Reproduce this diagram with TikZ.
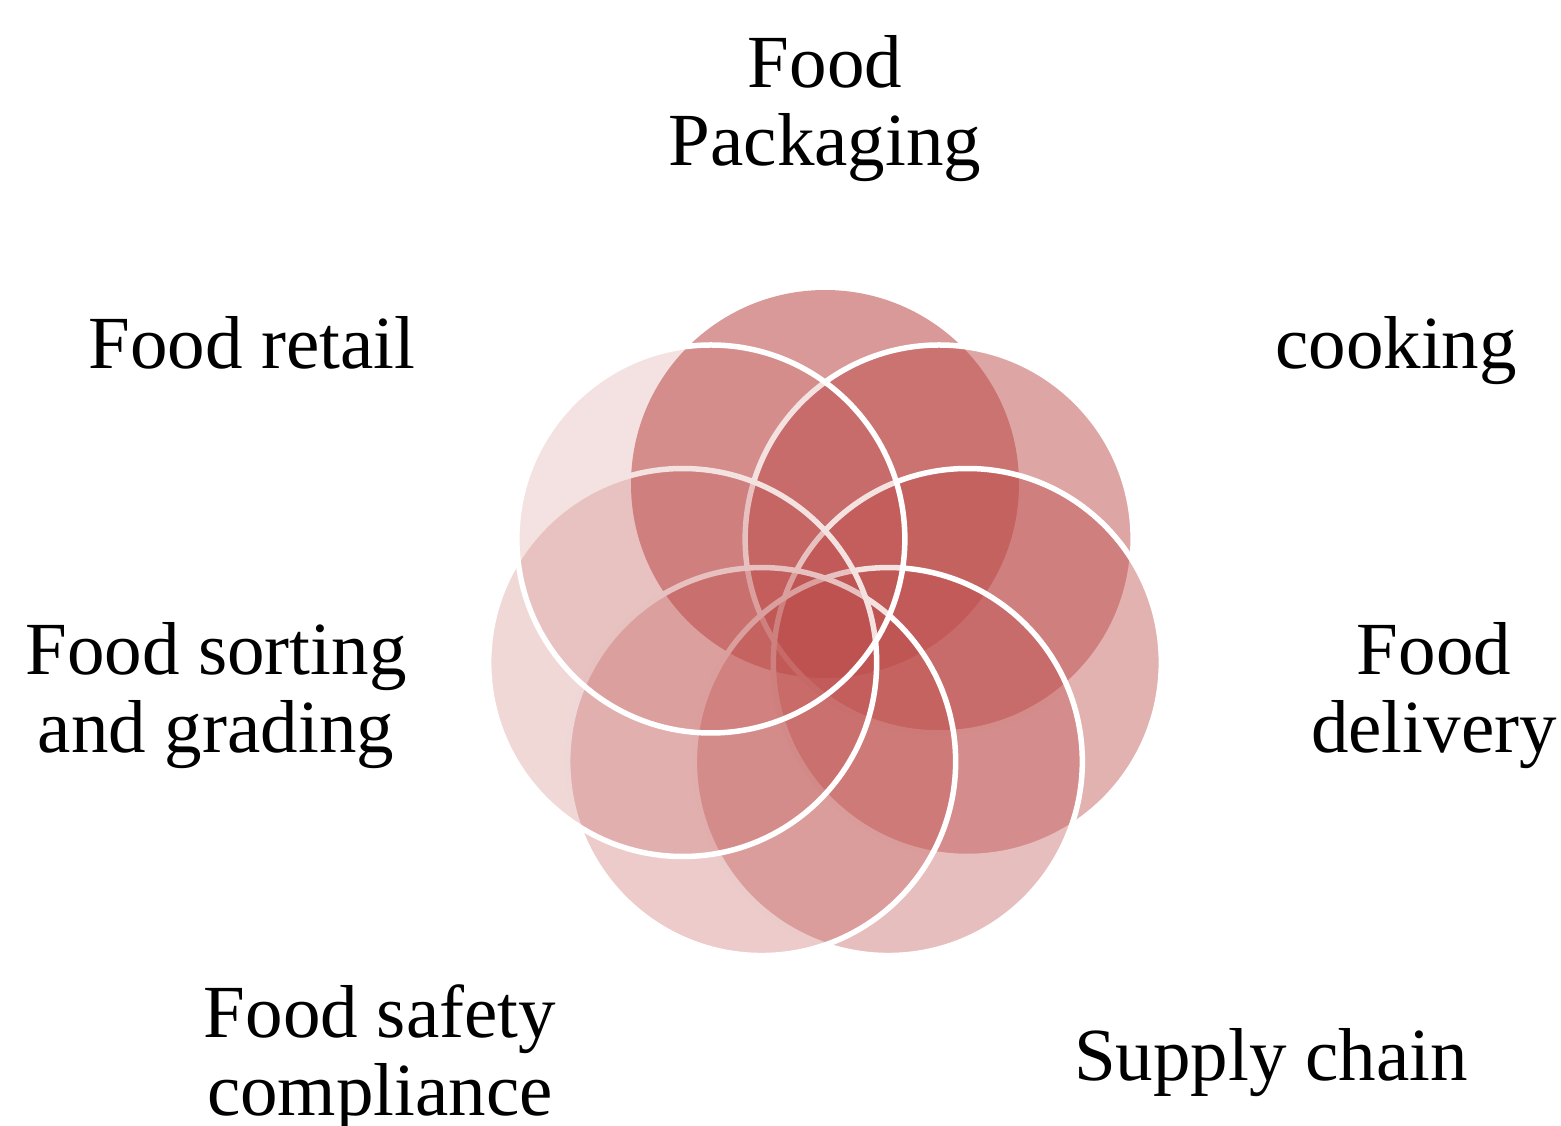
\documentclass[tikz,border=0pt]{standalone}
\usepackage{fontspec}
\setmainfont{Liberation Serif}
\usetikzlibrary{calc}
\definecolor{petalred}{RGB}{188,76,74}
\begin{document}
\begin{tikzpicture}[x=1pt,y=-1pt,
  petal/.style={circle,inner sep=0pt,minimum size=388pt,fill=petalred,draw=white,line width=5.5pt},
  lbl/.style={font=\fontsize{75}{78}\selectfont,align=center,anchor=base,inner sep=0pt}]
\useasboundingbox (0,0) rectangle (1561,1125);
\coordinate (o) at (825,630);
\node[petal,draw=none,fill opacity=0.57] (c1) at ($(o)+(-90:146)$) {};
\node[petal,fill opacity=0.5] (c2) at ($(o)+(-38.57:146)$) {};
\node[petal,fill opacity=0.43] (c3) at ($(o)+(12.86:146)$) {};
\node[petal,fill opacity=0.36] (c4) at ($(o)+(64.29:146)$) {};
\node[petal,fill opacity=0.29] (c5) at ($(o)+(115.71:146)$) {};
\node[petal,fill opacity=0.22] (c6) at ($(o)+(167.14:146)$) {};
\node[petal,fill opacity=0.16] (c7) at ($(o)+(218.57:146)$) {};
\node[lbl] (t1) at (825,165) {Food\\Packaging};
\node[lbl] (t2) at (1396,368) {cooking};
\node[lbl] (t3) at (1434,752) {Food\\delivery};
\node[lbl] (t4) at (1271,1080) {Supply chain};
\node[lbl] (t5) at (380,1115) {Food safety\\compliance};
\node[lbl] (t6) at (216,752) {Food sorting\\and grading};
\node[lbl] (t7) at (252,368) {Food retail};
\end{tikzpicture}
\end{document}
